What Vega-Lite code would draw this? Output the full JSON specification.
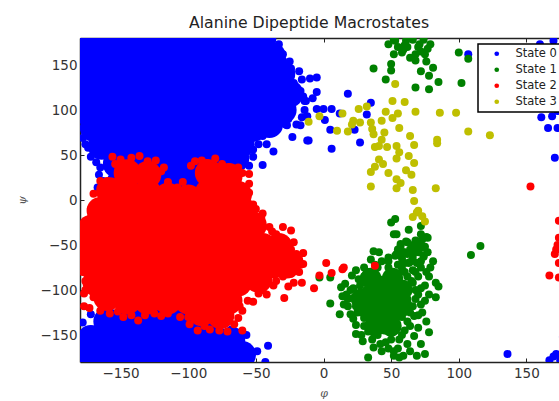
{"$schema":"https://vega.github.io/schema/vega-lite/v6.json","width":487,"height":324,"autosize":"none","padding":{"left":80,"top":38,"right":0,"bottom":39},"background":"white","title":{"text":"Alanine Dipeptide Macrostates","font":"DejaVu Sans","fontSize":15.7,"fontWeight":"normal","color":"#222","anchor":"start","frame":"group","dx":109,"offset":6},"config":{"view":{"stroke":null},"legend":{"strokeWidth":1.5},"axis":{"grid":false,"labelFont":"DejaVu Sans","labelFontSize":13.5,"labelColor":"#333","domainColor":"#222","domainWidth":1.5,"tickColor":"#222","tickSize":-4,"tickWidth":1,"zindex":1,"titleFont":"DejaVu Serif","titleFontStyle":"italic","titleFontWeight":"normal","titleFontSize":11,"titleColor":"#555"}},
"datasets":{
"blueCore":[{"phi":-180,"psi":180},{"phi":-165,"psi":180},{"phi":-150,"psi":180},{"phi":-135,"psi":180},{"phi":-120,"psi":180},{"phi":-105,"psi":180},{"phi":-90,"psi":180},{"phi":-75,"psi":180},{"phi":-60,"psi":180},{"phi":-45,"psi":180},
{"phi":-172,"psi":160},{"phi":-157,"psi":160},{"phi":-142,"psi":160},{"phi":-127,"psi":160},{"phi":-112,"psi":160},{"phi":-97,"psi":160},{"phi":-82,"psi":160},{"phi":-67,"psi":160},{"phi":-52,"psi":160},{"phi":-38,"psi":160},
{"phi":-180,"psi":140},{"phi":-165,"psi":140},{"phi":-150,"psi":140},{"phi":-135,"psi":140},{"phi":-120,"psi":140},{"phi":-105,"psi":140},{"phi":-90,"psi":140},{"phi":-75,"psi":140},{"phi":-60,"psi":140},{"phi":-45,"psi":140},{"phi":-31,"psi":140},
{"phi":-172,"psi":120},{"phi":-157,"psi":120},{"phi":-142,"psi":120},{"phi":-127,"psi":120},{"phi":-112,"psi":120},{"phi":-97,"psi":120},{"phi":-82,"psi":120},{"phi":-67,"psi":120},{"phi":-52,"psi":120},{"phi":-37,"psi":120},{"phi":-25,"psi":118},
{"phi":-180,"psi":100},{"phi":-165,"psi":100},{"phi":-150,"psi":100},{"phi":-135,"psi":100},{"phi":-120,"psi":100},{"phi":-105,"psi":100},{"phi":-90,"psi":100},{"phi":-75,"psi":100},{"phi":-60,"psi":100},{"phi":-45,"psi":100},{"phi":-30,"psi":100},
{"phi":-170,"psi":80},{"phi":-157,"psi":80},{"phi":-142,"psi":80},{"phi":-127,"psi":80},{"phi":-112,"psi":80},{"phi":-97,"psi":80},{"phi":-82,"psi":80},{"phi":-67,"psi":80},{"phi":-52,"psi":80},{"phi":-40,"psi":84},
{"phi":-164,"psi":60},{"phi":-151,"psi":60},{"phi":-136,"psi":60},{"phi":-121,"psi":60},{"phi":-106,"psi":60},{"phi":-91,"psi":60},{"phi":-76,"psi":60},{"phi":-61,"psi":62},
{"phi":-153,"psi":40},{"phi":-140,"psi":40},{"phi":-125,"psi":40},{"phi":-110,"psi":40},{"phi":-95,"psi":40},{"phi":-80,"psi":40},{"phi":-65,"psi":46},
{"phi":-150,"psi":20},{"phi":-135,"psi":20},{"phi":-120,"psi":20},{"phi":-105,"psi":24},{"phi":-90,"psi":20},
{"phi":-180,"psi":-172},{"phi":-165,"psi":-172},{"phi":-150,"psi":-172},{"phi":-135,"psi":-172},{"phi":-120,"psi":-172},{"phi":-105,"psi":-172},{"phi":-90,"psi":-172},{"phi":-75,"psi":-172},{"phi":-60,"psi":-172},
{"phi":-172,"psi":-154},{"phi":-157,"psi":-152},{"phi":-142,"psi":-152},{"phi":-127,"psi":-152},{"phi":-112,"psi":-152},{"phi":-97,"psi":-152},{"phi":-82,"psi":-152},{"phi":-68,"psi":-156},
{"phi":-160,"psi":-135},{"phi":-145,"psi":-132},{"phi":-130,"psi":-132},{"phi":-115,"psi":-132},{"phi":-100,"psi":-132},{"phi":-85,"psi":-132}],
"blue":[{"phi":18,"psi":118},{"phi":-5,"psi":120},{"phi":-18,"psi":143},{"phi":-16,"psi":134},{"phi":-10,"psi":135},{"phi":-5,"psi":136},{"phi":-8,"psi":113},{"phi":-13,"psi":110},{"phi":-5,"psi":101},{"phi":0,"psi":101},{"phi":6,"psi":101},{"phi":12,"psi":96},{"phi":35,"psi":108},{"phi":32,"psi":95},{"phi":-12,"psi":93},{"phi":1,"psi":89},{"phi":5,"psi":78},{"phi":23,"psi":78},{"phi":-17,"psi":83},{"phi":-27,"psi":83},{"phi":-23,"psi":70},{"phi":-11,"psi":66},{"phi":6,"psi":57},{"phi":27,"psi":64},{"phi":161,"psi":92},{"phi":166,"psi":80},{"phi":173,"psi":80},{"phi":171,"psi":47},{"phi":169,"psi":93},{"phi":165,"psi":104},{"phi":160,"psi":173},{"phi":170,"psi":177},{"phi":173,"psi":99},{"phi":107,"psi":162},{"phi":-25,"psi":154},{"phi":-30,"psi":162},{"phi":-33,"psi":173},{"phi":-17,"psi":121},{"phi":-14,"psi":110},{"phi":-20,"psi":84},{"phi":-28,"psi":84},{"phi":-37,"psi":54},{"phi":-45,"psi":39},{"phi":-48,"psi":62},{"phi":-52,"psi":48},{"phi":-55,"psi":38},{"phi":-12,"psi":66},{"phi":-36,"psi":78},{"phi":-45,"psi":71},{"phi":-174,"psi":58},{"phi":-170,"psi":53},{"phi":-165,"psi":36},{"phi":-163,"psi":21},{"phi":-167,"psi":14},{"phi":-178,"psi":69},{"phi":-41,"psi":-162},{"phi":-43,"psi":-180},{"phi":-49,"psi":-168},{"phi":-57,"psi":-150},{"phi":-68,"psi":-144},{"phi":-172,"psi":-127},{"phi":-178,"psi":-136},{"phi":136,"psi":-171},{"phi":172,"psi":-171},{"phi":167,"psi":-178},{"phi":175,"psi":-178},{"phi":177,"psi":-152},{"phi":170,"psi":-174},
{"phi":-27,"psi":140},{"phi":-22,"psi":130},{"phi":-15,"psi":115},{"phi":-14,"psi":100},{"phi":-16,"psi":92},{"phi":-26,"psi":90},{"phi":-34,"psi":80},{"phi":-42,"psi":62},{"phi":-52,"psi":56},{"phi":-60,"psi":50},{"phi":-24,"psi":146},{"phi":-30,"psi":155},{"phi":-35,"psi":168},{"phi":-38,"psi":178},{"phi":-176,"psi":62},{"phi":-172,"psi":48},{"phi":-168,"psi":42},{"phi":-166,"psi":28},{"phi":-164,"psi":10},{"phi":-160,"psi":5}],
"greenCore":[{"phi":35,"psi":-87},{"phi":51,"psi":-87},{"phi":35,"psi":-105},{"phi":51,"psi":-105},{"phi":35,"psi":-123},{"phi":51,"psi":-123},{"phi":38,"psi":-140},{"phi":50,"psi":-140},{"phi":43,"psi":-96},{"phi":43,"psi":-114},{"phi":43,"psi":-132},{"phi":58,"psi":-100},{"phi":58,"psi":-118},{"phi":28,"psi":-110}],
"green":[{"phi":37,"psi":146},{"phi":46,"psi":134},{"phi":50,"psi":151},{"phi":50,"psi":144},{"phi":48,"psi":173},{"phi":52,"psi":162},{"phi":58,"psi":164},{"phi":68,"psi":162},{"phi":72,"psi":143},{"phi":78,"psi":138},{"phi":85,"psi":131},{"phi":68,"psi":125},{"phi":78,"psi":123},{"phi":81,"psi":147},{"phi":76,"psi":154},{"phi":75,"psi":162},{"phi":79,"psi":173},{"phi":71,"psi":173},{"phi":61,"psi":177},{"phi":53,"psi":177},{"phi":59,"psi":167},{"phi":100,"psi":164},{"phi":107,"psi":157},{"phi":102,"psi":130},{"phi":55,"psi":170},{"phi":62,"psi":170},{"phi":66,"psi":178},{"phi":70,"psi":170},{"phi":74,"psi":178},{"phi":77,"psi":168},{"phi":52,"psi":178},{"phi":64,"psi":158},{"phi":60,"psi":172},{"phi":72,"psi":165},{"phi":68,"psi":155},
{"phi":53,"psi":-21},{"phi":50,"psi":-25},{"phi":52,"psi":-38},{"phi":54,"psi":-38},{"phi":63,"psi":-33},{"phi":72,"psi":-29},{"phi":72,"psi":-38},{"phi":76,"psi":-41},{"phi":71,"psi":-46},{"phi":68,"psi":-45},{"phi":75,"psi":-52},{"phi":62,"psi":-47},{"phi":57,"psi":-51},{"phi":60,"psi":-58},{"phi":54,"psi":-60},{"phi":70,"psi":-58},{"phi":74,"psi":-63},{"phi":72,"psi":-68},{"phi":66,"psi":-62},{"phi":64,"psi":-69},{"phi":58,"psi":-65},
{"phi":12,"psi":-127},{"phi":15,"psi":-116},{"phi":14,"psi":-107},{"phi":13,"psi":-97},{"phi":16,"psi":-93},{"phi":21,"psi":-84},{"phi":24,"psi":-78},{"phi":27,"psi":-95},{"phi":35,"psi":-66},{"phi":37,"psi":-57},{"phi":41,"psi":-58},{"phi":48,"psi":-64},{"phi":57,"psi":-49},{"phi":61,"psi":-46},{"phi":59,"psi":-58},{"phi":53,"psi":-62},{"phi":77,"psi":-42},{"phi":74,"psi":-53},{"phi":74,"psi":-62},{"phi":81,"psi":-68},{"phi":79,"psi":-75},{"phi":69,"psi":-70},{"phi":63,"psi":-70},{"phi":83,"psi":-92},{"phi":85,"psi":-96},{"phi":83,"psi":-108},{"phi":78,"psi":-105},{"phi":72,"psi":-116},{"phi":73,"psi":-125},{"phi":67,"psi":-129},{"phi":70,"psi":-142},{"phi":78,"psi":-147},{"phi":67,"psi":-151},{"phi":72,"psi":-160},{"phi":75,"psi":-171},{"phi":69,"psi":-173},{"phi":59,"psi":-173},{"phi":52,"psi":-173},{"phi":43,"psi":-168},{"phi":33,"psi":-175},{"phi":37,"psi":-164},{"phi":29,"psi":-157},{"phi":24,"psi":-149},{"phi":24,"psi":-139},{"phi":33,"psi":-146},{"phi":20,"psi":-127},{"phi":30,"psi":-131},{"phi":17,"psi":-105},{"phi":22,"psi":-109},
{"phi":60,"psi":-80},{"phi":65,"psi":-90},{"phi":68,"psi":-100},{"phi":62,"psi":-110},{"phi":58,"psi":-130},{"phi":60,"psi":-145},{"phi":50,"psi":-155},{"phi":55,"psi":-165},{"phi":40,"psi":-150},{"phi":35,"psi":-135},{"phi":25,"psi":-115},{"phi":28,"psi":-105},{"phi":30,"psi":-85},{"phi":40,"psi":-75},{"phi":48,"psi":-75},{"phi":55,"psi":-72},{"phi":70,"psi":-85},{"phi":75,"psi":-95},{"phi":66,"psi":-78},{"phi":72,"psi":-75},{"phi":62,"psi":-60},{"phi":68,"psi":-55},{"phi":66,"psi":-50},{"phi":45,"psi":-145},{"phi":52,"psi":-140},{"phi":62,"psi":-160},{"phi":46,"psi":-158},{"phi":64,"psi":-125},{"phi":68,"psi":-110},{"phi":75,"psi":-112},{"phi":58,"psi":-95},{"phi":20,"psi":-100},{"phi":25,"psi":-125},{"phi":35,"psi":-120},{"phi":18,"psi":-118},
{"phi":30,"psi":-75},{"phi":33,"psi":-80},{"phi":26,"psi":-88},{"phi":22,"psi":-98},{"phi":18,"psi":-110},{"phi":24,"psi":-118},{"phi":30,"psi":-112},{"phi":28,"psi":-125},{"phi":22,"psi":-132},{"phi":30,"psi":-140},{"phi":28,"psi":-150},{"phi":36,"psi":-155},{"phi":42,"psi":-160},{"phi":48,"psi":-165},{"phi":56,"psi":-155},{"phi":58,"psi":-150},{"phi":64,"psi":-140},{"phi":62,"psi":-135},{"phi":66,"psi":-118},{"phi":70,"psi":-105},{"phi":62,"psi":-100},{"phi":66,"psi":-92},{"phi":72,"psi":-98},{"phi":62,"psi":-85},{"phi":58,"psi":-76},{"phi":48,"psi":-68},{"phi":43,"psi":-68},{"phi":38,"psi":-72},{"phi":70,"psi":-128},{"phi":76,"psi":-135},{"phi":52,"psi":-168},{"phi":64,"psi":-168},{"phi":56,"psi":-175},{"phi":68,"psi":-80},{"phi":76,"psi":-80},{"phi":78,"psi":-85},{"phi":64,"psi":-55},{"phi":70,"psi":-50},{"phi":72,"psi":-53},{"phi":66,"psi":-66},{"phi":60,"psi":-70},{"phi":73,"psi":-44},{"phi":77,"psi":-58},{"phi":55,"psi":-55},
{"phi":-3,"psi":-86},{"phi":5,"psi":-86},{"phi":5,"psi":-115},{"phi":109,"psi":-61},{"phi":116,"psi":-51}],
"redCore":[{"phi":-145,"psi":30},{"phi":-130,"psi":28},{"phi":-85,"psi":30},{"phi":-70,"psi":26},
{"phi":-158,"psi":10},{"phi":-145,"psi":8},{"phi":-130,"psi":8},{"phi":-115,"psi":4},{"phi":-100,"psi":2},{"phi":-85,"psi":8},{"phi":-73,"psi":8},{"phi":-63,"psi":6},
{"phi":-165,"psi":-12},{"phi":-150,"psi":-12},{"phi":-135,"psi":-12},{"phi":-120,"psi":-12},{"phi":-105,"psi":-12},{"phi":-90,"psi":-12},{"phi":-75,"psi":-12},{"phi":-60,"psi":-12},
{"phi":-172,"psi":-32},{"phi":-157,"psi":-32},{"phi":-142,"psi":-32},{"phi":-127,"psi":-32},{"phi":-112,"psi":-32},{"phi":-97,"psi":-32},{"phi":-82,"psi":-32},{"phi":-67,"psi":-32},{"phi":-52,"psi":-28},
{"phi":-178,"psi":-52},{"phi":-165,"psi":-52},{"phi":-150,"psi":-52},{"phi":-135,"psi":-52},{"phi":-120,"psi":-52},{"phi":-105,"psi":-52},{"phi":-90,"psi":-52},{"phi":-75,"psi":-52},{"phi":-60,"psi":-52},{"phi":-45,"psi":-52},{"phi":-33,"psi":-52},
{"phi":-172,"psi":-72},{"phi":-157,"psi":-72},{"phi":-142,"psi":-72},{"phi":-127,"psi":-72},{"phi":-112,"psi":-72},{"phi":-97,"psi":-72},{"phi":-82,"psi":-72},{"phi":-67,"psi":-72},{"phi":-52,"psi":-72},{"phi":-37,"psi":-72},{"phi":-27,"psi":-72},
{"phi":-168,"psi":-92},{"phi":-153,"psi":-92},{"phi":-138,"psi":-92},{"phi":-123,"psi":-92},{"phi":-108,"psi":-92},{"phi":-93,"psi":-92},{"phi":-78,"psi":-92},{"phi":-63,"psi":-92},{"phi":-48,"psi":-88},
{"phi":-160,"psi":-108},{"phi":-145,"psi":-112},{"phi":-130,"psi":-112},{"phi":-115,"psi":-112},{"phi":-100,"psi":-112},{"phi":-85,"psi":-112},{"phi":-70,"psi":-112},
{"phi":-90,"psi":-125},{"phi":-76,"psi":-128}],
"red":[{"phi":153,"psi":15},{"phi":167,"psi":-84},{"phi":174,"psi":-23},{"phi":172,"psi":-55},{"phi":174,"psi":-42},{"phi":174,"psi":-70},{"phi":174,"psi":-86},{"phi":171,"psi":-60},{"phi":173,"psi":-50},
{"phi":-24,"psi":-34},{"phi":-15,"psi":-59},{"phi":-15,"psi":-71},{"phi":-22,"psi":-47},{"phi":2,"psi":-70},{"phi":-3,"psi":-84},{"phi":6,"psi":-81},{"phi":14,"psi":-77},{"phi":15,"psi":-75},{"phi":-7,"psi":-98},{"phi":-16,"psi":-92},{"phi":-22,"psi":-92},{"phi":-26,"psi":-96},{"phi":-29,"psi":-109},{"phi":38,"psi":-73},
{"phi":-42,"psi":-105},{"phi":-37,"psi":-95},{"phi":-52,"psi":-113},{"phi":-60,"psi":-123},{"phi":-63,"psi":-131},{"phi":-60,"psi":-145},{"phi":-71,"psi":-146},{"phi":-77,"psi":-145},{"phi":-84,"psi":-144},{"phi":-93,"psi":-145},{"phi":-99,"psi":-138},{"phi":-106,"psi":-130},{"phi":-120,"psi":-129},{"phi":-125,"psi":-126},{"phi":-137,"psi":-134},{"phi":-148,"psi":-130},{"phi":-158,"psi":-126},{"phi":-165,"psi":-123},{"phi":-173,"psi":-120},{"phi":-177,"psi":-118},{"phi":-177,"psi":-104},
{"phi":-156,"psi":48},{"phi":-136,"psi":49},{"phi":-124,"psi":44},{"phi":-130,"psi":43},{"phi":-95,"psi":43},{"phi":-80,"psi":46},{"phi":-75,"psi":40},{"phi":-86,"psi":41},{"phi":-63,"psi":36},{"phi":-55,"psi":29},{"phi":-55,"psi":18},{"phi":-55,"psi":8},{"phi":-52,"psi":-5},{"phi":-104,"psi":20},{"phi":-120,"psi":32},{"phi":-170,"psi":7},{"phi":-169,"psi":-5},{"phi":-165,"psi":21},{"phi":-160,"psi":21},{"phi":-154,"psi":40},{"phi":-142,"psi":47},{"phi":-45,"psi":-15},{"phi":-40,"psi":-30},{"phi":-35,"psi":-38},{"phi":-30,"psi":-30},{"phi":-20,"psi":-75},{"phi":-18,"psi":-80},{"phi":-30,"psi":-85},{"phi":-45,"psi":-100},{"phi":-176,"psi":-30},{"phi":-178,"psi":-80},{"phi":-176,"psi":-90},
{"phi":-150,"psi":45},{"phi":-148,"psi":38},{"phi":-118,"psi":36},{"phi":-115,"psi":20},{"phi":-108,"psi":14},{"phi":-98,"psi":38},{"phi":-90,"psi":44},{"phi":-70,"psi":36},{"phi":-60,"psi":30},{"phi":-58,"psi":14},{"phi":-50,"psi":-10},{"phi":-46,"psi":-20},{"phi":-38,"psi":-35},{"phi":-33,"psi":-42},{"phi":-28,"psi":-45},{"phi":-24,"psi":-55},{"phi":-20,"psi":-60},{"phi":-18,"psi":-66},{"phi":-17,"psi":-72},{"phi":-24,"psi":-82},{"phi":-35,"psi":-90},{"phi":-48,"psi":-104},{"phi":-56,"psi":-112},{"phi":-62,"psi":-118},{"phi":-66,"psi":-138},{"phi":-72,"psi":-135},{"phi":-88,"psi":-140},{"phi":-100,"psi":-130},{"phi":-115,"psi":-126},{"phi":-132,"psi":-128},{"phi":-142,"psi":-128},{"phi":-152,"psi":-124},{"phi":-170,"psi":-108},{"phi":-176,"psi":-100},{"phi":-178,"psi":-70},{"phi":-178,"psi":-40},{"phi":-172,"psi":-20},{"phi":-172,"psi":-10}],
"yellow":[{"phi":53,"psi":129},{"phi":51,"psi":110},{"phi":60,"psi":109},{"phi":32,"psi":104},{"phi":26,"psi":101},{"phi":46,"psi":98},{"phi":55,"psi":96},{"phi":51,"psi":91},{"phi":68,"psi":98},{"phi":86,"psi":97},{"phi":98,"psi":97},{"phi":43,"psi":88},{"phi":22,"psi":88},{"phi":21,"psi":84},{"phi":27,"psi":86},{"phi":35,"psi":86},{"phi":36,"psi":79},{"phi":37,"psi":73},{"phi":45,"psi":75},{"phi":56,"psi":80},{"phi":64,"psi":71},{"phi":67,"psi":61},{"phi":84,"psi":67},{"phi":84,"psi":63},{"phi":107,"psi":76},{"phi":123,"psi":72},{"phi":10,"psi":77},{"phi":18,"psi":76},{"phi":-3,"psi":93},{"phi":-11,"psi":87},{"phi":14,"psi":96},{"phi":43,"psi":67},{"phi":41,"psi":60},{"phi":47,"psi":59},{"phi":38,"psi":59},{"phi":54,"psi":60},{"phi":56,"psi":53},{"phi":54,"psi":46},{"phi":63,"psi":49},{"phi":67,"psi":41},{"phi":41,"psi":45},{"phi":44,"psi":40},{"phi":38,"psi":37},{"phi":35,"psi":31},{"phi":48,"psi":30},{"phi":61,"psi":33},{"phi":65,"psi":28},{"phi":54,"psi":23},{"phi":57,"psi":19},{"phi":35,"psi":15},{"phi":54,"psi":13},{"phi":66,"psi":11},{"phi":83,"psi":13},{"phi":67,"psi":-1},{"phi":70,"psi":-12},{"phi":69,"psi":-14},{"phi":66,"psi":-19},{"phi":73,"psi":-18},{"phi":75,"psi":-24}]
},
"encoding":{"x":{"field":"phi","type":"quantitative","scale":{"domain":[-180,180],"nice":false},"axis":null},"y":{"field":"psi","type":"quantitative","scale":{"domain":[-180,180],"nice":false},"axis":null},
"color":{"datum":"State 0","scale":{"domain":["State 0","State 1","State 2","State 3"],"range":["#0000ff","#008000","#ff0000","#bfbf00"]},"legend":{"orient":"none","legendX":398,"legendY":6,"title":null,"symbolType":"circle","symbolSize":22,"symbolOffset":9,"labelFont":"DejaVu Sans","labelFontSize":11.5,"labelColor":"#222","labelOffset":13,"rowPadding":3,"padding":4,"strokeColor":"#000","fillColor":"#fff","symbolStrokeWidth":0,"symbolOpacity":1}}},
"resolve":{"axis":{"x":"independent","y":"independent"}},
"layer":[
{"data":{"name":"blueCore"},"mark":{"type":"circle","size":750,"opacity":1,"clip":true},"encoding":{"x":{"field":"phi","type":"quantitative","title":"φ","axis":{"orient":"bottom","values":[-150,-100,-50,0,50,100,150],"labelPadding":8,"titlePadding":8}},"y":{"field":"psi","type":"quantitative","title":"ψ","axis":{"orient":"left","values":[-150,-100,-50,0,50,100,150],"labelPadding":7,"titlePadding":12}}}},
{"data":{"name":"blue"},"mark":{"type":"circle","size":64,"opacity":1,"clip":true}},
{"data":{"name":"greenCore"},"mark":{"type":"circle","size":450,"opacity":1,"clip":true},"encoding":{"color":{"datum":"State 1"}}},
{"data":{"name":"green"},"mark":{"type":"circle","size":64,"opacity":1,"clip":true},"encoding":{"color":{"datum":"State 1"}}},
{"data":{"name":"redCore"},"mark":{"type":"circle","size":750,"opacity":1,"clip":true},"encoding":{"color":{"datum":"State 2"}}},
{"data":{"name":"red"},"mark":{"type":"circle","size":64,"opacity":1,"clip":true},"encoding":{"color":{"datum":"State 2"}}},
{"data":{"name":"yellow"},"mark":{"type":"circle","size":64,"opacity":1,"clip":true},"encoding":{"color":{"datum":"State 3"}}},
{"data":{"name":"yellow"},"mark":{"type":"circle","size":0,"opacity":0},"encoding":{"x":{"field":"phi","type":"quantitative","axis":{"orient":"top","values":[-150,-100,-50,0,50,100,150],"labels":false,"title":null}},"color":{"datum":"State 3"}}}
]}
